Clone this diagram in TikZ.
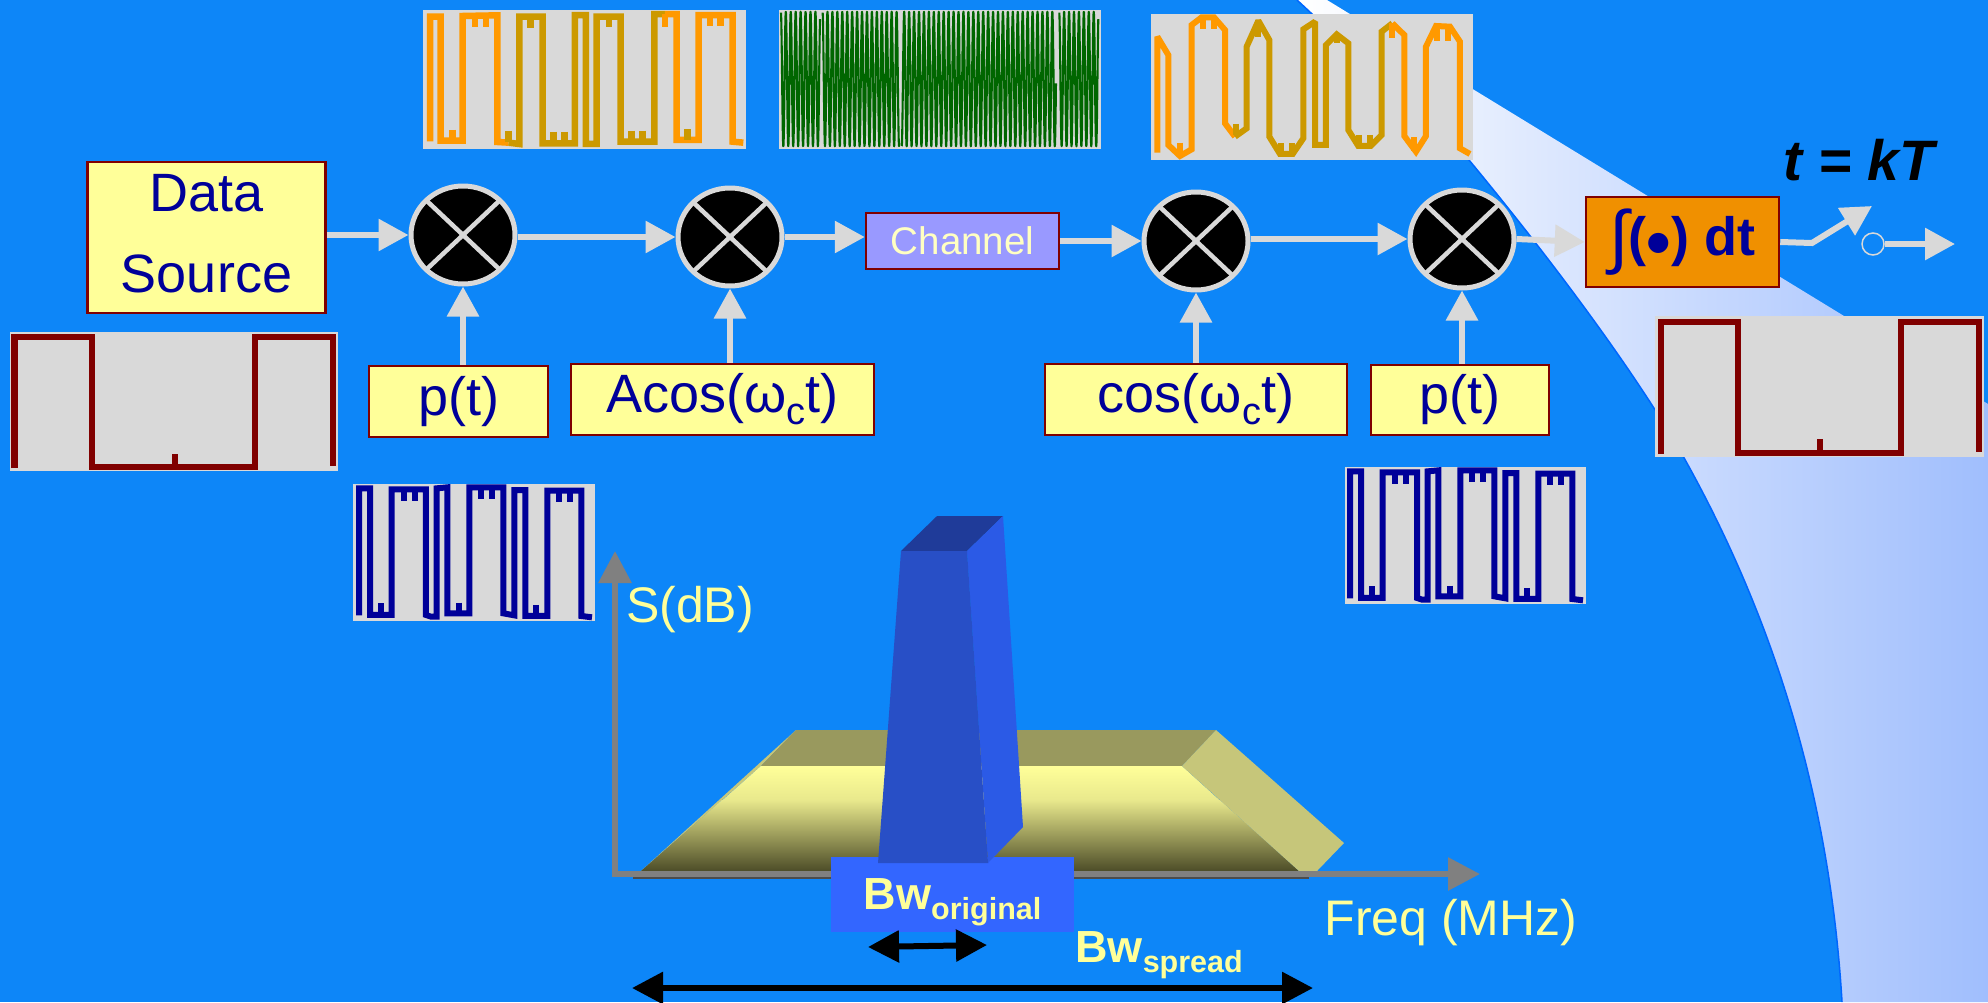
\documentclass[tikz,border=0pt]{standalone}
\usepackage{fontspec}
\setmainfont{Liberation Sans}
\usetikzlibrary{arrows.meta, positioning, shapes.geometric}
\definecolor{slideblue}{RGB}{13,134,248}
\definecolor{edgeblue}{RGB}{0,102,255}
\definecolor{bandend}{RGB}{160,190,253}
\definecolor{boxyellow}{RGB}{255,255,153}
\definecolor{boxred}{RGB}{128,0,0}
\definecolor{textnavy}{RGB}{0,0,153}
\definecolor{lightgray}{RGB}{217,217,217}
\definecolor{chanfill}{RGB}{153,153,255}
\definecolor{intfill}{RGB}{240,144,0}
\definecolor{waveorange}{RGB}{255,153,0}
\definecolor{waveolive}{RGB}{204,153,0}
\definecolor{wavegreen}{RGB}{0,102,0}
\definecolor{axisgray}{RGB}{128,128,128}
\definecolor{paleyellow}{RGB}{255,255,153}
\definecolor{barfront}{RGB}{40,79,198}
\definecolor{bartop}{RGB}{31,59,153}
\definecolor{barside}{RGB}{43,90,230}
\definecolor{bwblue}{RGB}{51,102,255}
\definecolor{plateback}{RGB}{153,153,94}
\definecolor{plateside}{RGB}{198,198,122}
\definecolor{platemid}{RGB}{232,232,140}
\definecolor{platelow}{RGB}{77,77,40}

\newcommand{\navywave}{%
  \draw[wave, textnavy] (57,436) -- (57,55) -- (90,55) -- (90,435) -- (155,435) -- (155,58) -- (258,58) -- (258,435)
    -- (273,440) -- (290,440) -- (290,430) -- (290,55) -- (322,52) -- (322,430) -- (388,430) -- (388,52) -- (490,52)
    -- (490,430) -- (523,436) -- (523,60) -- (556,60) -- (556,438) -- (622,438) -- (622,62) -- (724,62) -- (724,438) -- (756,442);
  \foreach \sx/\sa/\sb in {122/400/435, 192/58/92, 224/58/92, 356/398/430, 424/52/87, 457/52/87, 589/405/438, 658/62/95, 690/62/95}
    \draw[wave, textnavy] (\sx,\sa) -- (\sx,\sb);
}
\newcommand{\bwsub}[1]{\smash{\raisebox{-10pt}{\fontsize{30.5}{34}\selectfont #1}}}
\newcommand{\omegasub}{ω\raisebox{-12pt}{\fontsize{38}{38}\selectfont c}}

\begin{document}
\begin{tikzpicture}[
  x=1pt, y=-1pt,
  box/.style={draw=boxred, line width=2.5pt, fill=boxyellow, text=textnavy, inner sep=0pt, align=center, font=\fontsize{54}{81}\selectfont},
  plotbox/.style={fill=lightgray, inner sep=0pt},
  mixer/.style={ellipse, draw=lightgray, line width=5pt, fill=black, inner sep=0pt, minimum width=104pt, minimum height=98pt,
    path picture={\draw[lightgray, line width=4.5pt] (path picture bounding box.north west) -- (path picture bounding box.south east)
      (path picture bounding box.north east) -- (path picture bounding box.south west);}},
  arrow/.style={-{Triangle[length=30pt, width=31pt]}, line width=6pt, lightgray},
  axis/.style={-{Triangle[length=32pt, width=32pt]}, line width=6pt, axisgray},
  span/.style={{Triangle[length=31pt, width=31pt]}-{Triangle[length=31pt, width=31pt]}, line width=6pt, black},
  pale/.style={text=paleyellow, inner sep=0pt},
  wave/.style={line width=6pt, miter limit=2},
  zoomed/.style={x=.3333pt, y=-.3333pt}
]
\useasboundingbox (0,0) rectangle (1988,1002);

% Background and light band
\fill[slideblue] (0,0) rectangle (1988,1002);
\shade[left color=white, right color=bandend] (1297,0) -- (1327,0) -- (1988,404) -- (1988,1002) -- (1842,1002)
  .. controls (1830,800) and (1775,620) .. (1683,456) .. controls (1640,380) and (1560,270) .. (1469,160) -- cycle;
\draw[edgeblue, line width=1.5pt] (1842,1002) .. controls (1830,800) and (1775,620) .. (1683,456)
  .. controls (1640,380) and (1560,270) .. (1469,160) -- (1297,0);

% Data source and its waveform
\node[box, minimum width=238pt, minimum height=151pt, text depth=8pt] (source) at (206.5,237.5) {Data\\Source};
\node[plotbox, minimum width=328pt, minimum height=139pt] (dataplot) at (174,401.5) {};
\draw[line width=6.5pt, boxred] (14.5,468) -- (14.5,337) -- (92,337) -- (92,467) -- (255,467) -- (255,337) -- (333,337) -- (333,466);
\draw[line width=6.5pt, boxred] (175,467) -- (175,454);

% Mixers
\node[mixer] (mix1) at (463,235) {};
\node[mixer] (mix2) at (730,237) {};
\node[mixer] (mix3) at (1196,241) {};
\node[mixer] (mix4) at (1462,239) {};

% Local signals
\node[box, minimum width=179pt, minimum height=71pt] (code1) at (458.5,401.5) {\raisebox{-2pt}{p(t)}};
\node[box, minimum width=303pt, minimum height=71pt] (carrier1) at (722.5,399.5) {Acos(\omegasub t)};
\node[box, minimum width=302pt, minimum height=71pt] (carrier2) at (1196,399.5) {cos(\omegasub t)};
\node[box, minimum width=178pt, minimum height=70pt] (code2) at (1460,400) {\raisebox{-2pt}{p(t)}};

% Channel
\node[box, fill=chanfill, text=paleyellow!60!white, minimum width=193pt, minimum height=56pt, font=\fontsize{38.5}{44}\selectfont] (channel) at (962.5,241) {Channel};

% Integrator and sampling switch
\node[box, fill=intfill, minimum width=193pt, minimum height=90pt, font=\fontsize{54}{60}\selectfont\bfseries] (integ) at (1682.5,242) {\raisebox{-6pt}{\raisebox{-5pt}{\scalebox{1.3}{\mdseries ∫}}(\raisebox{-11pt}{\fontsize{70}{70}\selectfont •}) dt}};
\node[font=\fontsize{57}{60}\selectfont\bfseries\itshape, inner sep=0pt] (sample) at (1859,160) {t = kT};
\node[circle, draw=lightgray, line width=1.5pt, inner sep=0pt, minimum size=22pt] (swgap) at (1873,244) {};
\coordinate (swpivot) at (1812,243);
\coordinate (swend) at (1872,206);
\coordinate (swout) at (1955,244);

% Chain arrows
\draw[arrow] (source.east |- mix1) -- (mix1);
\draw[arrow] (mix1.east |- mix2) -- (mix2);
\draw[arrow] (mix2.east) -- (channel.west |- mix2);
\draw[arrow] (channel.east) -- (mix3);
\draw[arrow] (mix3.east |- mix4) -- (mix4);
\draw[arrow] (mix4.east) -- (integ.west);
\draw[arrow] (mix1 |- code1.north) -- (mix1);
\draw[arrow] (mix2 |- carrier1.north) -- (mix2);
\draw[arrow] (mix3 |- carrier2.north) -- (mix3);
\draw[arrow] (mix4 |- code2.north) -- (mix4);
\draw[arrow] (integ.east) -- (swpivot) -- (swend);
\draw[arrow] (swgap) -- (swout);

% Spread data (orange)
\node[plotbox, minimum width=323pt, minimum height=139pt] (spreadplot) at (584.5,79.5) {};
\begin{scope}[shift={(410,0)}, zoomed, wave/.append style={line width=6.5pt}]
  \draw[wave, waveorange] (60,424) -- (60,50) -- (92,50) -- (92,422) -- (158,422) -- (158,48) -- (262,46) -- (262,426) -- (296,428);
  \draw[wave, waveolive] (296,428) -- (328,432) -- (328,50) -- (398,50) -- (398,430) -- (495,430) -- (495,45) -- (528,45) -- (528,432) -- (560,432) -- (560,50) -- (632,50) -- (632,425) -- (733,425) -- (733,42) -- (765,42);
  \draw[wave, waveorange] (765,42) -- (800,42) -- (800,420) -- (866,420) -- (866,45) -- (968,45) -- (968,425) -- (1000,428);
  \foreach \sx/\sa/\sb in {127/390/420, 195/48/80, 228/48/80, 765/42/80, 900/45/78, 932/45/78}
    \draw[wave, waveorange] (\sx,\sa) -- (\sx,\sb);
  \foreach \sx/\sa/\sb in {296/392/426, 362/50/85, 431/395/430, 463/395/430, 597/48/82, 665/392/425, 698/392/425, 832/388/420}
    \draw[wave, waveolive] (\sx,\sa) -- (\sx,\sb);
\end{scope}

% Modulated carrier (green)
\node[plotbox, minimum width=322pt, minimum height=139pt] (carrierplot) at (940,79.5) {};
\begin{scope}[shift={(770,0)}, zoomed]
  \foreach \from/\to/\peak/\num in {33/150/40/240, 158/388/165/460, 395/858/410/920, 868/985/875/240}
    \draw[wavegreen, line width=2.1pt, line join=round] plot[domain=\from:\to, samples=\num] (\x,{237+202*sin(24.3*(\x-\peak)+90)});
\end{scope}

% Received signal (orange, distorted)
\node[plotbox, minimum width=322pt, minimum height=146pt] (recvplot) at (1312,87) {};
\begin{scope}[shift={(1140,0)}, zoomed]
  \draw[wave, waveorange] (52,458) -- (52,110) -- (85,165) -- (85,435) -- (120,468) -- (155,448) -- (155,75) -- (185,52) -- (222,52) -- (255,90) -- (255,370) -- (285,410);
  \draw[wave, waveolive] (285,410) -- (320,385) -- (320,140) -- (355,62) -- (388,120) -- (388,410) -- (420,462) -- (458,462) -- (490,415) -- (490,88) -- (525,65) -- (525,435) -- (558,435) -- (558,135) -- (590,103) -- (625,130) -- (625,390) -- (655,438) -- (692,438) -- (725,405) -- (725,95) -- (757,70);
  \draw[wave, waveorange] (757,70) -- (793,105) -- (793,408) -- (828,455) -- (858,408) -- (858,140) -- (888,78) -- (930,80) -- (960,125) -- (960,445) -- (990,462);
  \foreach \sx/\sa/\sb in {120/428/468, 188/55/88, 221/55/88, 757/70/115, 823/412/452, 892/85/122, 925/85/122}
    \draw[wave, waveorange] (\sx,\sa) -- (\sx,\sb);
  \foreach \sx/\sa/\sb in {288/372/405, 355/62/110, 422/430/462, 456/430/462, 590/103/128, 657/405/438, 690/405/438}
    \draw[wave, waveolive] (\sx,\sa) -- (\sx,\sb);
\end{scope}

% Recovered data
\node[plotbox, minimum width=329pt, minimum height=141pt] (outplot) at (1819.5,386.5) {};
\draw[line width=6.5pt, boxred] (1661,454) -- (1661,322) -- (1738,322) -- (1738,453) -- (1901,453) -- (1901,322) -- (1979,322) -- (1979,452);
\draw[line width=6.5pt, boxred] (1820,453) -- (1820,439);

% Spreading code plots
\node[plotbox, minimum width=242pt, minimum height=137pt] (codeplot1) at (474,552.5) {};
\begin{scope}[shift={(340,470)}, zoomed]
  \navywave
\end{scope}
\node[plotbox, minimum width=241pt, minimum height=137pt] (codeplot2) at (1465.5,535.5) {};
\begin{scope}[shift={(1331,453)}, zoomed]
  \navywave
\end{scope}

% Spread spectrum plate
\draw[black!70, line width=1.5pt] (633,878) -- (1309,878);
\fill[plateside] (641,871) -- (796,730) -- (761,766) -- cycle;
\fill[plateback] (761,766) -- (796,730) -- (1216,730) -- (1182,766) -- cycle;
\shade[top color=boxyellow, bottom color=platemid] (761,766) -- (1182,766) -- (1220,800.5) -- (722,800.5) -- cycle;
\shade[top color=platemid, bottom color=platelow] (722,800) -- (1220,800) -- (1299,871) -- (641,871) -- cycle;
\fill[plateside] (1182,766) -- (1216,730) -- (1344,843) -- (1317,871) -- (1299,871) -- cycle;

% Axes
\coordinate (origin) at (615,874);
\coordinate (ytop) at (615,551);
\coordinate (xend) at (1480,874);
\draw[axis] (xend -| origin) ++(-3,0) -- (xend);
\draw[axis] (origin) ++(0,3) -- (ytop);
\node[pale, font=\fontsize{50}{56}\selectfont] (ylabel) at (690,609.5) {S(dB)};
\node[pale, font=\fontsize{50}{56}\selectfont] (xlabel) at (1451,923) {Freq (MHz)};

% Narrowband spike
\node[fill=bwblue, minimum width=243pt, minimum height=75pt, inner sep=0pt, text=paleyellow, font=\fontsize{45}{50}\selectfont\bfseries] (bworig) at (952.5,894.5) {Bw\bwsub{original}};
\fill[bartop] (901,551) -- (937,516) -- (1003,516) -- (967,551) -- cycle;
\fill[barside] (967,551) -- (1003,516) -- (1023,827) -- (988,863) -- cycle;
\fill[barfront] (901,551) -- (967,551) -- (988,863) -- (878,863) -- cycle;

% Bandwidth spans
\node[pale, font=\fontsize{45}{50}\selectfont\bfseries] (bwspread) at (1159,947) {Bw\bwsub{spread}};
\coordinate (origleft) at (868,947);
\coordinate (origright) at (987,945);
\coordinate (spreadleft) at (632,988);
\coordinate (spreadright) at (1313,988);
\draw[span] (origleft) -- (origright);
\draw[span] (spreadleft) -- (spreadright);

\end{tikzpicture}
\end{document}
